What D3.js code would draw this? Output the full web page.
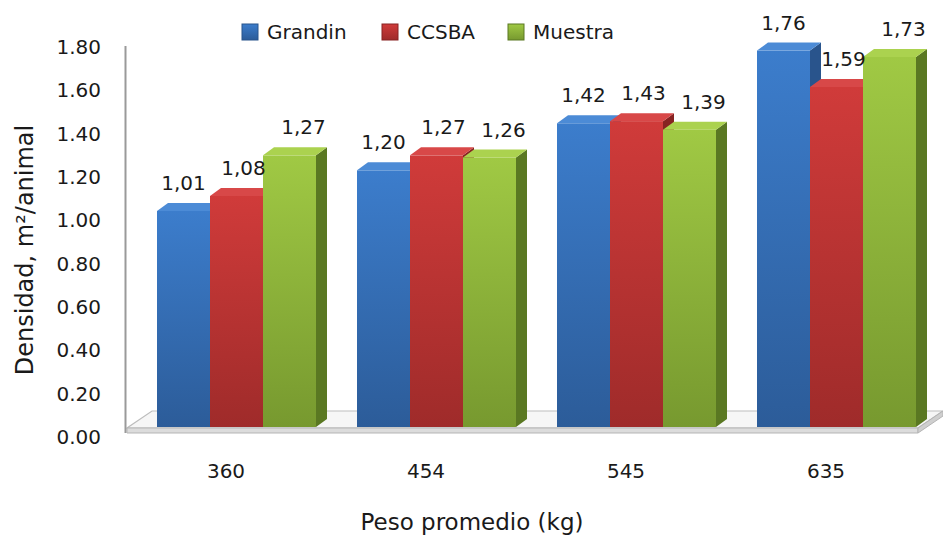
<!DOCTYPE html>
<html>
<head>
<meta charset="utf-8">
<script src="https://cdn.jsdelivr.net/npm/d3@7"></script>
<style>
  body { margin: 0; background: #fff; }
  text { font-family: "DejaVu Sans", Verdana, sans-serif; fill: #1a1a1a; }
</style>
</head>
<body>
<div id="chart"></div>
<script>
var categories = ["360", "454", "545", "635"];
var series = ["Grandin", "CCSBA", "Muestra"];
var grandin = [1.01, 1.20, 1.42, 1.76];
var ccsba = [1.08, 1.27, 1.43, 1.59];
var muestra = [1.27, 1.26, 1.39, 1.73];
var yTicks = [0, 0.2, 0.4, 0.6, 0.8, 1.0, 1.2, 1.4, 1.6, 1.8];

var values = [grandin, ccsba, muestra];

// colours: front top, front bottom, side, top
var colors = [
    { top: "#4c8bd6", a: "#3c7dcc", b: "#2c5c99", side: "#29548c" },
    { top: "#d84848", a: "#d03b3a", b: "#9f2b2a", side: "#872322" },
    { top: "#abd24f", a: "#a0c944", b: "#77992f", side: "#5a7822" }
];

var width = 943, height = 535;
var dx = 11, dy = 8;   // depth of the 3d bars
var barW = 53;

var svg = d3.select("#chart")
    .append("svg")
    .attr("width", width)
    .attr("height", height);

var defs = svg.append("defs");
colors.forEach(function (c, i) {
    var g = defs.append("linearGradient")
        .attr("id", "grad" + i)
        .attr("x1", 0).attr("y1", 0).attr("x2", 0).attr("y2", 1);
    g.append("stop").attr("offset", "0%").attr("stop-color", c.a);
    g.append("stop").attr("offset", "100%").attr("stop-color", c.b);
});

var x = d3.scaleBand()
    .domain(categories)
    .range([126, 926]);

var y = d3.scaleLinear()
    .domain([0, 1.8])
    .range([427, 42]);

// the axis sits on the back wall, a little lower
var yAxisScale = y.copy().range([437, 47]);

// floor
var floorG = svg.append("g");
floorG.append("polygon")
    .attr("points", [[127, 428], [918, 428], [943, 411], [152, 411]].join(" "))
    .attr("fill", "#f6f6f6")
    .attr("stroke", "#bdbdbd")
    .attr("stroke-width", 1.2);
floorG.append("polygon")
    .attr("points", [[127, 428], [918, 428], [918, 433], [127, 433]].join(" "))
    .attr("fill", "#dcdcdc")
    .attr("stroke", "#b5b5b5")
    .attr("stroke-width", 1);
floorG.append("polygon")
    .attr("points", [[918, 428], [943, 411], [943, 416], [918, 433]].join(" "))
    .attr("fill", "#cfcfcf")
    .attr("stroke", "#b5b5b5")
    .attr("stroke-width", 1);

// y axis line
svg.append("line")
    .attr("x1", 125.5).attr("x2", 125.5)
    .attr("y1", 46).attr("y2", 433)
    .attr("stroke", "#9a9a9a")
    .attr("stroke-width", 2);

var yAxis = svg.append("g")
    .attr("transform", "translate(101,0)")
    .call(d3.axisLeft(yAxisScale).tickValues(yTicks).tickSize(0).tickPadding(0)
        .tickFormat(d3.format(".2f")));
yAxis.select(".domain").remove();
yAxis.selectAll("text")
    .attr("font-size", 20)
    .attr("font-family", "DejaVu Sans")
    .attr("fill", "#1a1a1a");

// bars
var bars = svg.append("g");
var labels = svg.append("g");
categories.forEach(function (cat, j) {
    series.forEach(function (s, i) {
        var v = values[i][j];
        var x0 = x(cat) + 31 + i * barW;
        var yt = y(v), yb = y(0);
        var c = colors[i];
        bars.append("polygon")
            .attr("points", [[x0 + barW, yt], [x0 + barW + dx, yt - dy], [x0 + barW + dx, yb - dy], [x0 + barW, yb]].join(" "))
            .attr("fill", c.side);
        bars.append("rect")
            .attr("x", x0).attr("y", yt)
            .attr("width", barW).attr("height", yb - yt)
            .attr("fill", "url(#grad" + i + ")");
        bars.append("polygon")
            .attr("points", [[x0, yt], [x0 + dx, yt - dy], [x0 + barW + dx, yt - dy], [x0 + barW, yt]].join(" "))
            .attr("fill", c.top);
        labels.append("text")
            .attr("x", x0 + barW / 2 + i * 7)
            .attr("y", yt - 28)
            .attr("dy", "0.35em")
            .attr("text-anchor", "middle")
            .attr("font-size", 20)
            .text(d3.format(".2f")(v).replace(".", ","));
    });
});

// x labels
var xAxis = svg.append("g")
    .attr("transform", "translate(0,471)")
    .call(d3.axisBottom(x).tickSize(0).tickPadding(0));
xAxis.select(".domain").remove();
xAxis.selectAll("text")
    .attr("font-size", 20)
    .attr("dy", "0.35em")
    .attr("font-family", "DejaVu Sans")
    .attr("fill", "#1a1a1a");

// axis titles
svg.append("text")
    .attr("x", 472).attr("y", 522)
    .attr("dy", "0.35em")
    .attr("text-anchor", "middle")
    .attr("font-size", 23)
    .text("Peso promedio (kg)");

svg.append("text")
    .attr("transform", "translate(25,250) rotate(-90)")
    .attr("dy", "0.35em")
    .attr("text-anchor", "middle")
    .attr("font-size", 24)
    .text("Densidad, m\u00b2/animal");

// legend
var legendX = [242, 382, 508];
var legend = svg.append("g");
series.forEach(function (s, i) {
    legend.append("rect")
        .attr("x", legendX[i]).attr("y", 24)
        .attr("width", 16).attr("height", 16)
        .attr("fill", "url(#grad" + i + ")")
        .attr("stroke", colors[i].side)
        .attr("stroke-width", 1);
    legend.append("text")
        .attr("x", legendX[i] + 25).attr("y", 32)
        .attr("dy", "0.35em")
        .attr("font-size", 20)
        .text(s);
});
</script>
</body>
</html>
